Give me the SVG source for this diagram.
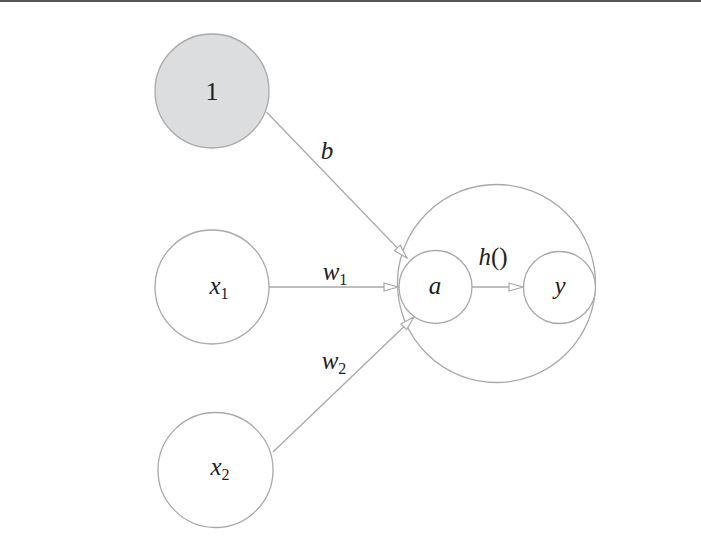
<svg xmlns="http://www.w3.org/2000/svg" width="701" height="543" viewBox="0 0 701 543">
<style>
.n{fill:#fff;stroke:#a9a9a9;stroke-width:1.3}
.g{fill:#dcdddf}
.c{stroke:#a9a9a9;stroke-width:1.3;fill:none}
.t{font-family:"Liberation Serif",serif;font-style:italic;font-size:25px;fill:#222;text-anchor:middle}
.u{font-family:"Liberation Serif",serif;font-size:26px;fill:#222;text-anchor:middle}
.s{font-size:16px;font-style:normal}
.p{font-style:normal}
</style>
<defs>
<marker id="ah" markerUnits="userSpaceOnUse" markerWidth="18" markerHeight="12" refX="15" refY="5" orient="auto">
<path d="M1,1 L15,5 L1,9 Z" fill="#fff" stroke="#a9a9a9" stroke-width="1.2"/>
</marker>
</defs>
<rect x="0" y="0" width="701" height="543" fill="#fff"/>
<line x1="0" y1="1" x2="701" y2="1" stroke="#555" stroke-width="2"/>
<g id="neuron">
<circle class="n" cx="496.5" cy="283.5" r="99"/>
</g>
<g id="node1">
<circle class="n g" cx="212" cy="91" r="57"/>
<text class="u" x="212" y="100">1</text>
</g>
<g id="nodex1">
<circle class="n" cx="212" cy="287" r="57"/>
<text class="t" x="219" y="294">x<tspan class="s" dy="5">1</tspan></text>
</g>
<g id="nodex2">
<circle class="n" cx="215.5" cy="470" r="57.5"/>
<text class="t" x="220" y="475">x<tspan class="s" dy="5">2</tspan></text>
</g>
<g id="nodea">
<circle class="n" cx="435.5" cy="287" r="36.5"/>
<text class="t" x="435" y="294">a</text>
</g>
<g id="nodey">
<circle class="n" cx="559.5" cy="287.5" r="36"/>
<text class="t" x="560" y="294">y</text>
</g>
<g id="connectors">
<line class="c" x1="266.5" y1="112" x2="407" y2="258" marker-end="url(#ah)"/>
<line class="c" x1="269" y1="287" x2="398" y2="287" marker-end="url(#ah)"/>
<line class="c" x1="273" y1="452" x2="414" y2="317" marker-end="url(#ah)"/>
<line class="c" x1="472" y1="287" x2="523" y2="287" marker-end="url(#ah)"/>
</g>
<g id="labels">
<text class="t" x="327" y="159">b</text>
<text class="t" x="335" y="280">w<tspan class="s" dy="5">1</tspan></text>
<text class="t" x="334" y="369">w<tspan class="s" dy="5">2</tspan></text>
<text class="t" x="493" y="265">h<tspan class="p">()</tspan></text>
</g>
</svg>
